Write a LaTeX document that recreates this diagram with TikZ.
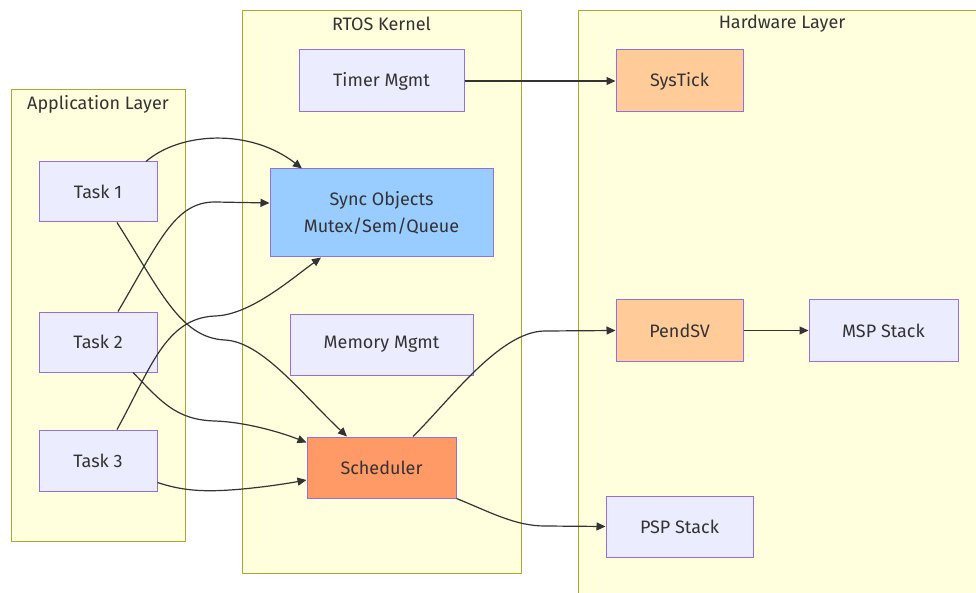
\documentclass[tikz,border=0pt]{standalone}
\usepackage{fontspec}
\setmainfont{Fira Sans}
\usetikzlibrary{arrows.meta}
\definecolor{clusterfill}{HTML}{FFFFDE}
\definecolor{clusterline}{HTML}{AAAA33}
\definecolor{boxfill}{HTML}{ECECFF}
\definecolor{boxline}{HTML}{9370DB}
\definecolor{syncfill}{HTML}{99CCFF}
\definecolor{schedfill}{HTML}{FF9966}
\definecolor{hwfill}{HTML}{FFCC99}
\definecolor{ink}{HTML}{333333}
\tikzset{
  layer/.style={draw=clusterline, fill=clusterfill, line width=1pt},
  layertitle/.style={text=ink, font=\fontsize{18}{21}\selectfont, inner sep=0pt},
  box/.style={draw=boxline, fill=boxfill, line width=1pt, text=ink,
    font=\fontsize{18}{27}\selectfont, align=center, inner sep=0pt},
  syncbox/.style={box, fill=syncfill},
  schedbox/.style={box, fill=schedfill},
  hwbox/.style={box, fill=hwfill},
  link/.style={draw=ink, line width=1.2pt, -{Triangle[length=9pt,width=8pt]}}
}
\begin{document}
\begin{tikzpicture}[x=1pt,y=-1pt]
\useasboundingbox (0,0) rectangle (976,593);
\clip (0,0) rectangle (976,593);

% layers
\draw[layer] (11,90) rectangle (185,541);
\draw[layer] (242,11) rectangle (521,573);
\draw[layer] (578,11) rectangle (1000,620);
\node[layertitle] (tapp) at (98,104) {Application Layer};
\node[layertitle] (tk) at (381.5,24) {RTOS Kernel};
\node[layertitle] (thw) at (782,24) {Hardware Layer};

% application tasks
\node[box, minimum width=118pt, minimum height=60pt] (t1) at (98,192) {Task 1};
\node[box, minimum width=118pt, minimum height=60pt] (t2) at (98,342) {Task 2};
\node[box, minimum width=118pt, minimum height=61pt] (t3) at (98,460.5) {Task 3};

% kernel services
\node[box, minimum width=165pt, minimum height=62pt] (timer) at (381.5,81) {Timer Mgmt};
\node[syncbox, minimum width=223pt, minimum height=88pt] (sync) at (381.5,213) {Sync Objects\\Mutex/Sem/Queue};
\node[box, minimum width=183pt, minimum height=61pt] (mem) at (381.5,344.5) {Memory Mgmt};
\node[schedbox, minimum width=149pt, minimum height=61pt] (sched) at (381.5,467.5) {Scheduler};

% hardware
\node[hwbox, minimum width=127pt, minimum height=62pt] (systick) at (679.5,81) {SysTick};
\node[hwbox, minimum width=127pt, minimum height=61pt] (pendsv) at (679.5,330.5) {PendSV};
\node[box, minimum width=149pt, minimum height=61pt] (msp) at (883.5,330.5) {MSP Stack};
\node[box, minimum width=147pt, minimum height=61pt] (psp) at (679.5,526.5) {PSP Stack};

% connectors
\draw[link] ([xshift=48pt]t1.north) .. controls (180,132) and (250,128) .. ([xshift=-79.5pt]sync.north);
\draw[link] ([xshift=19pt]t1.south) .. controls (160,290) and (180,338) .. (225,340)
  .. controls (262,342) and (300,392) .. ([xshift=-34.5pt]sched.north);
\draw[link] ([xshift=20pt]t2.north) .. controls (160,240) and (175,202) .. (215,202) -- ([yshift=10pt]sync.west);
\draw[link] ([xshift=35pt]t2.south) .. controls (160,400) and (175,420) .. (215,421)
  .. controls (245,422) and (280,432) .. ([yshift=25pt]sched.west);
\draw[link] ([xshift=19pt]t3.north) .. controls (150,370) and (165,318) .. (215,316)
  .. controls (250,315) and (290,280) .. ([xshift=-60.5pt]sync.south);
\draw[link] ([yshift=-22pt]t3.east) .. controls (180,490) and (200,492) .. (230,490)
  .. controls (260,488) and (290,483) .. ([yshift=-12.5pt]sched.west);
\draw[link] (timer) -- (systick);
\draw[link] ([xshift=31.5pt]sched.north) .. controls (450,400) and (500,331) .. (545,331) -- (pendsv.west);
\draw[link] (pendsv) -- (msp);
\draw[link] (sched.south east) .. controls (490,512) and (515,526) .. (545,526) -- (psp.west);
\end{tikzpicture}
\end{document}
